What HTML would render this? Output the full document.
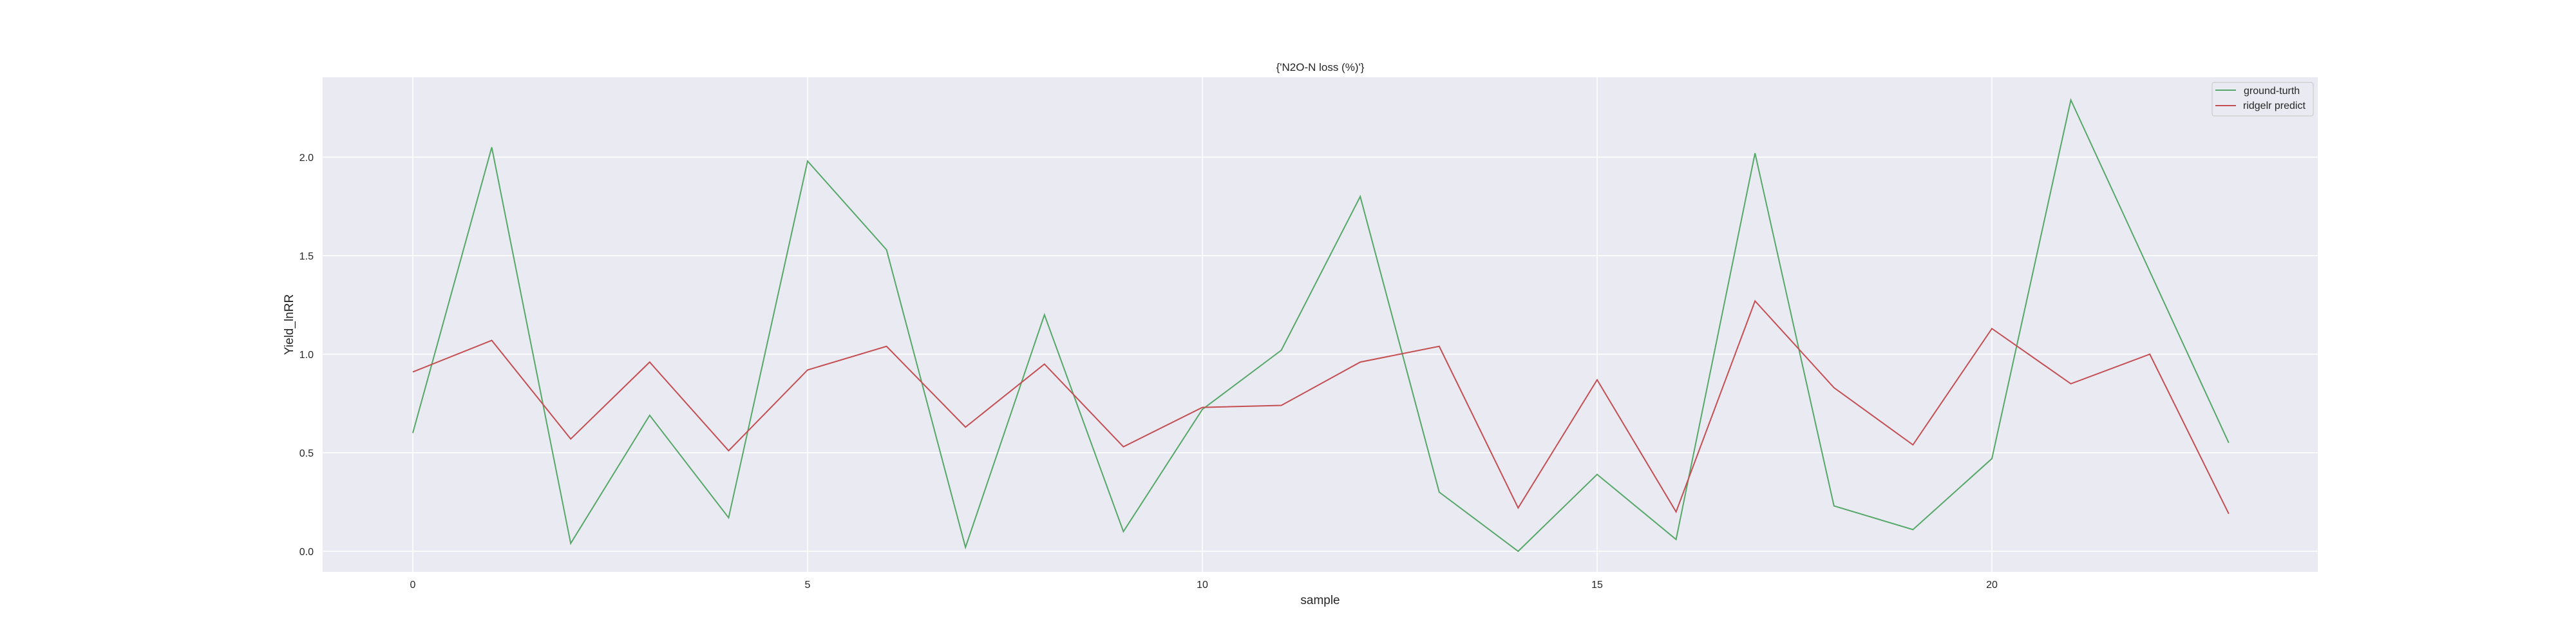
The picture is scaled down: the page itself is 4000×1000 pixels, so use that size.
<!DOCTYPE html>
<html><head><meta charset="utf-8"><style>
body{margin:0;background:#fff;}
svg{display:block;font-family:"Liberation Sans","DejaVu Sans",sans-serif;}
</style></head><body>
<svg id="chart" width="4000" height="1000">
<rect x="501" y="120" width="3098" height="768" fill="#eaeaf2"/>
<g id="grid"></g><g id="ticks"></g><g id="lines"></g>
<text x="2050" y="110" text-anchor="middle" font-size="17" fill="#262626">{'N2O-N loss (%)'}</text>
<text x="2050" y="938" text-anchor="middle" font-size="19" fill="#262626">sample</text>
<text transform="translate(455,504) rotate(-90)" text-anchor="middle" font-size="19" fill="#262626">Yield_lnRR</text>
<g>
<rect x="3435" y="128" width="157" height="52" rx="3" fill="#eaeaf2" stroke="#cccccc" stroke-width="1.2"/>
<g>
<line x1="3440" y1="140" x2="3472" y2="140" stroke="#55a868" stroke-width="2"/>
<text x="3484" y="146" font-size="16" fill="#262626">ground-turth</text></g>
<g>
<line x1="3440" y1="164" x2="3472" y2="164" stroke="#c44e52" stroke-width="2"/>
<text x="3483" y="169" font-size="16" fill="#262626">ridgelr predict</text></g>
</g>
</svg>
<script>
const samples=[0,1,2,3,4,5,6,7,8,9,10,11,12,13,14,15,16,17,18,19,20,21,22,23];
const groundTruth=[0.6,2.05,0.04,0.69,0.17,1.98,1.53,0.02,1.2,0.1,0.72,1.02,1.8,0.3,0.0,0.39,0.06,2.02,0.23,0.11,0.47,2.29,1.42,0.55];
const ridgePredict=[0.91,1.07,0.57,0.96,0.51,0.92,1.04,0.63,0.95,0.53,0.73,0.74,0.96,1.04,0.22,0.87,0.2,1.27,0.83,0.54,1.13,0.85,1.0,0.19];
const xTicks=[0,5,10,15,20];
const yTicks=[0.0,0.5,1.0,1.5,2.0];
const NS="http://www.w3.org/2000/svg";
function sx(v){return 641+v*122.6;}
function sy(v){return 856-v*306;}
const grid=document.getElementById('grid'),ticks=document.getElementById('ticks'),lines=document.getElementById('lines');
xTicks.forEach(t=>{
 const l=document.createElementNS(NS,'line');
 l.setAttribute('x1',sx(t));l.setAttribute('x2',sx(t));l.setAttribute('y1',120);l.setAttribute('y2',888);
 l.setAttribute('stroke','#fff');l.setAttribute('stroke-width','1.5');
 
 
 grid.appendChild(l);
 const tx=document.createElementNS(NS,'text');
 tx.setAttribute('x',sx(t));tx.setAttribute('y',913);tx.setAttribute('text-anchor','middle');
 tx.setAttribute('font-size','16');tx.setAttribute('fill','#262626');tx.textContent=t;
 
 
 ticks.appendChild(tx);
});
yTicks.forEach(t=>{
 const l=document.createElementNS(NS,'line');
 l.setAttribute('x1',501);l.setAttribute('x2',3599);l.setAttribute('y1',sy(t));l.setAttribute('y2',sy(t));
 l.setAttribute('stroke','#fff');l.setAttribute('stroke-width','1.5');
 
 
 grid.appendChild(l);
 const tx=document.createElementNS(NS,'text');
 tx.setAttribute('x',487);tx.setAttribute('y',sy(t)+6);tx.setAttribute('text-anchor','end');
 tx.setAttribute('font-size','16');tx.setAttribute('fill','#262626');tx.textContent=t.toFixed(1);
 
 
 ticks.appendChild(tx);
});
function drawLine(vals,color,name){
 const p=document.createElementNS(NS,'polyline');
 p.setAttribute('points',vals.map((v,i)=>sx(samples[i])+','+sy(v)).join(' '));
 p.setAttribute('fill','none');p.setAttribute('stroke',color);p.setAttribute('stroke-width','2');
 
 
 lines.appendChild(p);
}
drawLine(groundTruth,'#55a868','ground-truth-line');
drawLine(ridgePredict,'#c44e52','ridge-predict-line');
</script>
</body></html>
